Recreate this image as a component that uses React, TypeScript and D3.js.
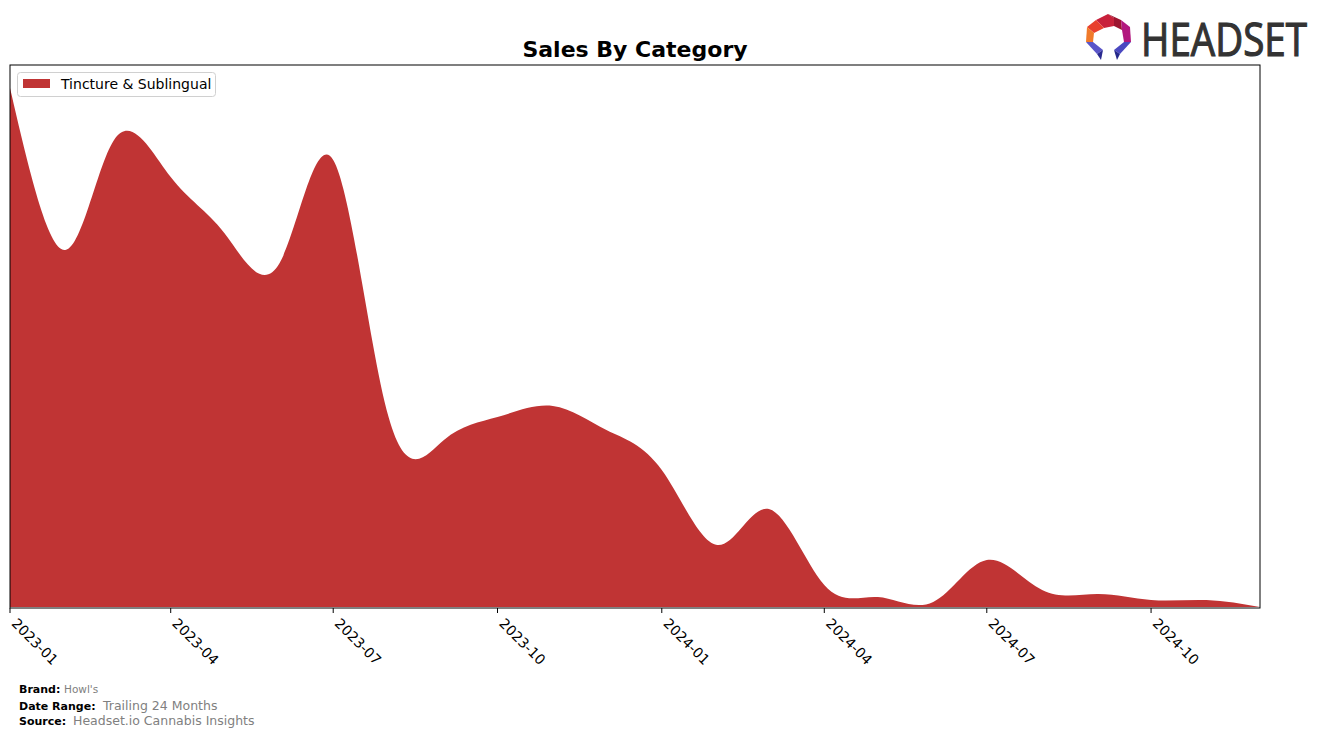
import React from "react";
import * as d3 from "d3";

const months: string[] = [
  "2023-01", "2023-02", "2023-03", "2023-04", "2023-05", "2023-06",
  "2023-07", "2023-08", "2023-09", "2023-10", "2023-11", "2023-12",
  "2024-01", "2024-02", "2024-03", "2024-04", "2024-05", "2024-06",
  "2024-07", "2024-08", "2024-09", "2024-10", "2024-11", "2024-12",
];
const tinctureSales: number[] = [
  51900, 35700, 46900, 43000, 37400, 34400,
  44700, 19000, 16700, 19000, 20100, 17700,
  13700, 6200, 9800, 2200, 1000, 500,
  4700, 1700, 1300, 700, 700, 0,
];
const tickLabels: string[] = [
  "2023-01", "2023-04", "2023-07", "2023-10",
  "2024-01", "2024-04", "2024-07", "2024-10",
];
const seriesName = "Tincture & Sublingual";

export default function App() {
  const W = 1324, H = 738;
  const left = 10, right = 1260, top = 65, bottom = 608;
  const parse = d3.timeParse("%Y-%m");
  const dates = months.map((m) => parse(m) as Date);
  const x = d3.scaleTime().domain([dates[0], dates[dates.length - 1]]).range([left, right]);
  const y = d3.scaleLinear().domain([0, 54200]).range([bottom - 1, top]);
  const data = dates.map((d, i) => ({ d, v: tinctureSales[i] }));
  const area = d3
    .area<{ d: Date; v: number }>()
    .x((p) => x(p.d))
    .y0(y(0))
    .y1((p) => y(p.v))
    .curve(d3.curveNatural);
  const ticks = tickLabels.map((t) => ({ t, x: x(parse(t) as Date) }));
  const font = "DejaVu Sans, sans-serif";

  return (
    <svg width={W} height={H} style={{ position: "absolute", left: 0, top: 0 }} fontFamily={font}>
      <rect width={W} height={H} fill="#fff" />
      <defs>
        <clipPath id="plotclip">
          <rect x={left} y={top} width={right - left} height={bottom - top} />
        </clipPath>
      </defs>
      <text x={635} y={57} textAnchor="middle" fontSize={22} fontWeight="bold">Sales By Category</text>
      <path d={area(data) || ""} fill="#c03434" clipPath="url(#plotclip)" />
      <rect x={left} y={top} width={right - left} height={bottom - top} fill="none" stroke="#000" strokeWidth={1} />
      {ticks.map((tk) => (
        <g key={tk.t}>
          <line x1={tk.x} x2={tk.x} y1={bottom} y2={bottom + 5} stroke="#000" />
          <text
            transform={`translate(${tk.x + 8},${bottom + 9}) rotate(45)`}
            fontSize={14}
            textAnchor="start"
            dominantBaseline="hanging"
          >
            {tk.t}
          </text>
        </g>
      ))}
      <g>
        <rect x={17.5} y={72.5} width={198} height={24} rx={3} fill="#fff" fillOpacity={0.8} stroke="#d0d0d0" />
        <rect x={23} y={79} width={27} height={9} fill="#c03434" />
        <text x={61} y={89} fontSize={14}>{seriesName}</text>
      </g>
      <g fontSize={11}>
        <text x={19} y={693} fontWeight="bold">Brand:</text>
        <text x={64} y={693} fill="#808080" fontSize={10.5}>Howl's</text>
        <text x={19} y={710} fontWeight="bold">Date Range:</text>
        <text x={103} y={710} fill="#808080" fontSize={12.5}>Trailing 24 Months</text>
        <text x={19} y={725} fontWeight="bold">Source:</text>
        <text x={73} y={725} fill="#808080" fontSize={12.5}>Headset.io Cannabis Insights</text>
      </g>
      <g>
        <polygon points="1096,20 1108,14 1114,18 1114,26 1104,28" fill="#c8213b" />
        <polygon points="1108,14 1121,20 1122,30 1114,26 1114,18" fill="#9c1530" />
        <polygon points="1121,20 1130,27 1131,42 1124,42 1122,30" fill="#b2187e" />
        <polygon points="1096,20 1104,28 1094,33 1087,27" fill="#e8402e" />
        <polygon points="1087,27 1094,33 1093,42 1086,42" fill="#f07a2a" />
        <polygon points="1086,42 1093,42 1103,50 1097,54" fill="#5a55c8" />
        <polygon points="1097,54 1103,50 1101,60" fill="#2a2a90" />
        <polygon points="1131,42 1124,42 1114,50 1120,54" fill="#4a48c0" />
        <polygon points="1120,54 1114,50 1117,60" fill="#24288a" />
        <text x={1141} y={56} fontSize={46} fill="#333" stroke="#333" strokeWidth={1.2} fontFamily="'Open Sans', sans-serif" textLength={166} lengthAdjust="spacingAndGlyphs">HEADSET</text>
      </g>
    </svg>
  );
}
